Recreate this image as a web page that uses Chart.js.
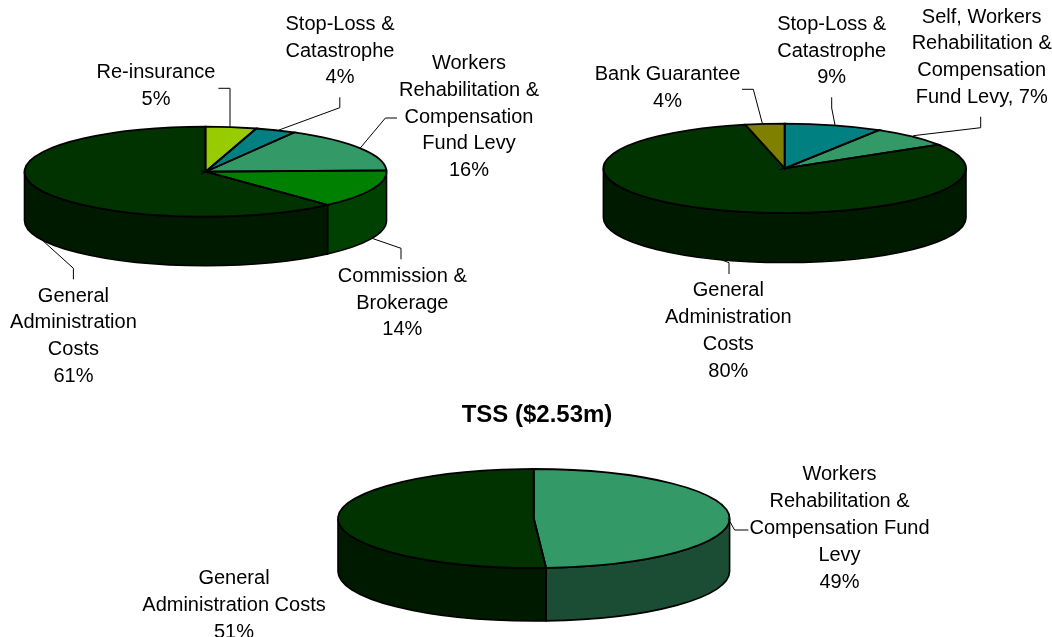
<!DOCTYPE html>
<html>
<head>
<meta charset="utf-8">
<title>Cost breakdown pies</title>
<script src="https://cdn.jsdelivr.net/npm/chart.js@4"></script>
<style>
    html, body { margin: 0; padding: 0; background: #fff; overflow: hidden; }
    #wrap { position: relative; width: 1052px; height: 637px; overflow: hidden; }
    canvas { position: absolute; left: 0; top: 0; }
</style>
</head>
<body>
<div id="wrap">
    <canvas id="pieLeft" width="1052" height="637"></canvas>
    <canvas id="pieRight" width="1052" height="637"></canvas>
    <canvas id="pieTss" width="1074" height="1000"></canvas>
</div>
<script>
    // Left pie, clockwise from 12 o'clock
    const leftCategories = ['Re-insurance', 'Stop-Loss & Catastrophe', 'Workers Rehabilitation & Compensation Fund Levy', 'Commission & Brokerage', 'General Administration Costs'];
    const leftValues = [4.5, 3.6, 16.3, 13.6, 61.4];
    const leftLabels = [
        ['Re-insurance', '5%'],
        ['Stop-Loss &', 'Catastrophe', '4%'],
        ['Workers', 'Rehabilitation &', 'Compensation', 'Fund Levy', '16%'],
        ['Commission &', 'Brokerage', '14%'],
        ['General', 'Administration', 'Costs', '61%']
    ];

    // Right pie
    const rightCategories = ['Stop-Loss & Catastrophe', 'Self, Workers Rehabilitation & Compensation Fund Levy', 'General Administration Costs', 'Bank Guarantee'];
    const rightValues = [8.7, 7.4, 80.4, 3.5];
    const rightLabels = [
        ['Stop-Loss &', 'Catastrophe', '9%'],
        ['Self, Workers', 'Rehabilitation &', 'Compensation', 'Fund Levy, 7%'],
        ['General', 'Administration', 'Costs', '80%'],
        ['Bank Guarantee', '4%']
    ];

    // TSS pie
    const tssTitle = 'TSS ($2.53m)';
    const tssCategories = ['Workers Rehabilitation & Compensation Fund Levy', 'General Administration Costs'];
    const tssValues = [49, 51];
    const tssLabels = [
        ['Workers', 'Rehabilitation &', 'Compensation Fund', 'Levy', '49%'],
        ['General', 'Administration Costs', '51%']
    ];

    const FONT = '"Liberation Sans", Arial, sans-serif';

    // Squashes the flat Chart.js pie into an ellipse, adds the side wall, outlines, leaders and labels
    const pie3d = {
        id: 'pie3d',
        beforeDatasetsDraw(chart, args, opts) {
            const ctx = chart.ctx;
            const arcs = chart.getDatasetMeta(0).data;
            const rx = arcs[0].outerRadius;

            // side wall, only the front half of the rim can be seen
            arcs.forEach((arc, i) => {
                const a0 = Math.max(arc.startAngle, 0);
                const a1 = Math.min(arc.endAngle, Math.PI);
                if (a1 <= a0) return;
                ctx.beginPath();
                ctx.ellipse(opts.cx, opts.cy, rx, opts.ry, 0, a0, a1);
                ctx.ellipse(opts.cx, opts.cy + opts.depth, rx, opts.ry, 0, a1, a0, true);
                ctx.closePath();
                ctx.fillStyle = opts.sideColors[i];
                ctx.fill();
                ctx.strokeStyle = '#000';
                ctx.lineWidth = 1.6;
                ctx.stroke();
            });

            ctx.save();
            ctx.translate(opts.cx, opts.cy);
            ctx.scale(1, opts.ry / rx);
            ctx.translate(-arcs[0].x, -arcs[0].y);
        },
        afterDatasetsDraw(chart, args, opts) {
            const ctx = chart.ctx;
            const arcs = chart.getDatasetMeta(0).data;
            ctx.restore();

            // top face outlines, stroked unsquashed so the pen stays even
            arcs.forEach(arc => {
                ctx.save();
                ctx.translate(opts.cx, opts.cy);
                ctx.scale(1, opts.ry / arc.outerRadius);
                ctx.translate(-arc.x, -arc.y);
                ctx.beginPath();
                ctx.moveTo(arc.x, arc.y);
                ctx.arc(arc.x, arc.y, arc.outerRadius, arc.startAngle, arc.endAngle);
                ctx.closePath();
                ctx.restore();
                ctx.strokeStyle = '#000';
                ctx.lineWidth = 1.8;
                ctx.stroke();
            });

            // leader lines
            ctx.strokeStyle = '#000';
            ctx.lineWidth = 1;
            opts.leaders.forEach(pts => {
                ctx.beginPath();
                pts.forEach((p, i) => i ? ctx.lineTo(p[0], p[1]) : ctx.moveTo(p[0], p[1]));
                ctx.stroke();
            });

            // data labels
            ctx.fillStyle = '#000';
            ctx.font = opts.fontSize + 'px ' + FONT;
            ctx.textAlign = 'center';
            ctx.textBaseline = 'middle';
            opts.labels.forEach((lines, i) => {
                const spot = opts.spots[i];
                lines.forEach((line, j) => ctx.fillText(line, spot.x, spot.y[j]));
            });
        }
    };

    function makePie(id, categories, values, colors, geom, title) {
        const canvas = document.getElementById(id);
        const side = (canvas.width - 2 * geom.rx) / 2;
        return new Chart(canvas, {
            type: 'pie',
            data: {
                labels: categories,
                datasets: [{ data: values, backgroundColor: colors, borderWidth: 0 }]
            },
            options: {
                responsive: false,
                animation: false,
                layout: { padding: { left: side, right: side, top: 0, bottom: 0 } },
                plugins: {
                    legend: { display: false },
                    tooltip: { enabled: false },
                    title: title || { display: false },
                    pie3d: geom
                }
            },
            plugins: [pie3d]
        });
    }

    makePie('pieLeft', leftCategories, leftValues, ['#99cc00', '#008080', '#339966', '#008000', '#003300'], {
        cx: 205.5, cy: 171.7, rx: 181, ry: 45, depth: 49,
        sideColors: ['#4d6600', '#004040', '#1a4d33', '#004000', '#001a00'],
        fontSize: 20,
        labels: leftLabels,
        spots: [
            { x: 156, y: [72.7, 99.5] },
            { x: 340, y: [24.3, 51, 77.5] },
            { x: 469, y: [63, 90, 117.5, 143.5, 170.5] },
            { x: 402.3, y: [276.5, 303, 329.7] },
            { x: 73.4, y: [296.5, 322.5, 349.5, 376] }
        ],
        leaders: [
            [[218.4, 88.3], [230, 88.3], [230, 126.7]],
            [[339.8, 97.3], [339.8, 107.7], [279, 130]],
            [[397, 118], [385.4, 118], [360, 148.3]],
            [[401, 259.3], [401, 248.3], [372, 238.3]],
            [[73.4, 279.3], [73.4, 268.3], [41, 239]]
        ]
    });

    makePie('pieRight', rightCategories, rightValues, ['#008080', '#339966', '#003300', '#808000'], {
        cx: 784.7, cy: 168.3, rx: 181.3, ry: 44.7, depth: 49.5,
        sideColors: ['#004040', '#1a4d33', '#001a00', '#404000'],
        fontSize: 20,
        labels: rightLabels,
        spots: [
            { x: 831.7, y: [24.5, 51, 77.5] },
            { x: 981.7, y: [17, 43.5, 70.5, 97.5] },
            { x: 728.3, y: [290, 317, 344, 371] },
            { x: 667.5, y: [74, 101.5] }
        ],
        leaders: [
            [[831.7, 97.3], [831.7, 108], [835, 125]],
            [[980.7, 116.7], [980.7, 127.7], [913.3, 135.7]],
            [[729, 274], [729, 262.7], [720, 259.3]],
            [[742, 89.3], [753.3, 89.3], [762.3, 123.3]]
        ]
    });

    makePie('pieTss', tssCategories, tssValues, ['#339966', '#003300'], {
        cx: 533.8, cy: 518.5, rx: 195.8, ry: 49.5, depth: 53,
        sideColors: ['#1a4d33', '#001a00'],
        fontSize: 20,
        labels: tssLabels,
        spots: [
            { x: 839.5, y: [474.3, 501.7, 528, 555, 582] },
            { x: 234, y: [578.3, 605.3, 632] }
        ],
        leaders: [
            [[748.4, 530], [734.6, 530], [728, 518.3]]
        ]
    }, {
        display: true,
        text: tssTitle,
        color: '#000',
        font: { family: FONT, size: 24, weight: 'bold' },
        padding: { top: 400.5, bottom: 10 }
    });
</script>
</body>
</html>
